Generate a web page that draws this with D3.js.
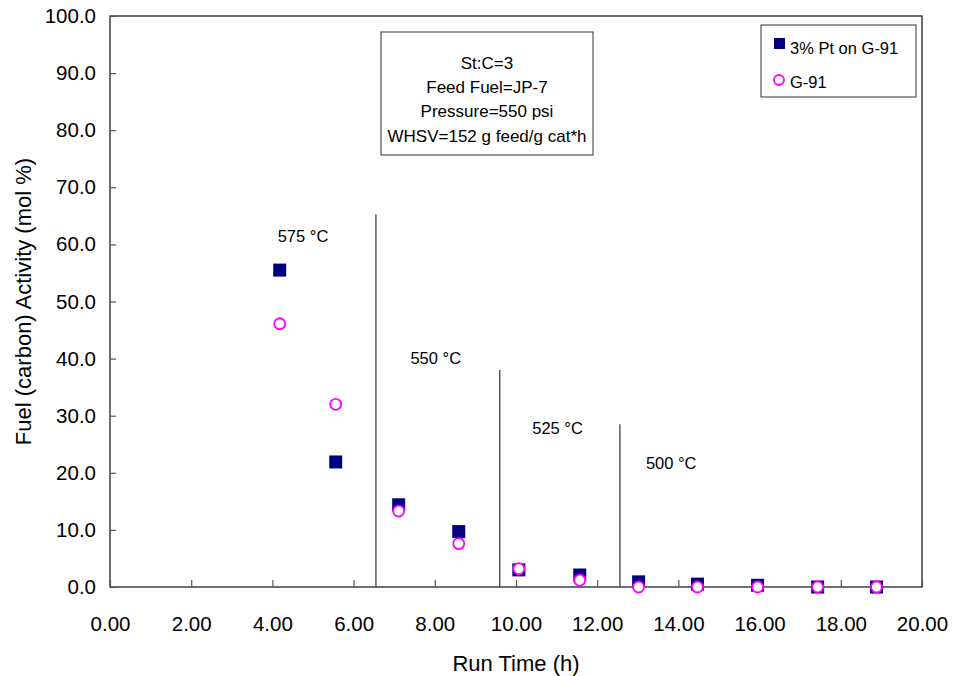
<!DOCTYPE html>
<html>
<head>
<meta charset="utf-8">
<script src="https://cdn.jsdelivr.net/npm/d3@7"></script>
<style>
  body { margin: 0; background: #fff; }
  svg { font-family: "Liberation Sans", Arial, sans-serif; }
  .tick-label { font-size: 20.5px; fill: #000; }
  .axis-title { font-size: 22px; fill: #000; }
  .note { font-size: 16.5px; fill: #000; }
  .cond { font-size: 17px; fill: #000; }
</style>
</head>
<body>
<svg></svg>
<script>
// run time (h) of each sample
var runTime = [4.18, 5.56, 7.11, 8.59, 10.07, 11.57, 13.02, 14.47, 15.95, 17.43, 18.88];
// fuel (carbon) activity, mol %
var ptOnG91 = [55.5, 21.9, 14.4, 9.7, 3.0, 2.1, 0.9, 0.5, 0.3, 0.0, 0.0];
var g91 = [46.1, 32.0, 13.3, 7.6, 3.2, 1.2, 0.0, 0.0, 0.0, 0.0, 0.0];

var xTicks = [0, 2, 4, 6, 8, 10, 12, 14, 16, 18, 20];
var yTicks = [0, 10, 20, 30, 40, 50, 60, 70, 80, 90, 100];

// temperature zones: divider position, divider top, label
var zoneLabels = ["575 °C", "550 °C", "525 °C", "500 °C"];
var zoneLabelX = [4.13, 7.4, 10.4, 13.2];
var zoneLabelY = [61.5, 40.0, 27.8, 21.6];
var dividerX = [6.55, 9.6, 12.56];
var dividerTop = [65.3, 38.0, 28.5];

var conditions = ["St:C=3", "Feed Fuel=JP-7", "Pressure=550 psi", "WHSV=152 g feed/g cat*h"];
var seriesNames = ["3% Pt on G-91", "G-91"];

var svgWidth = 953, svgHeight = 676;
var margin = { top: 16, right: 31, bottom: 89, left: 110 };
var width = svgWidth - margin.left - margin.right;
var height = svgHeight - margin.top - margin.bottom;

var svg = d3.select("svg")
  .attr("width", svgWidth)
  .attr("height", svgHeight);

var chart = svg.append("g")
  .attr("transform", `translate(${margin.left}, ${margin.top})`);

var x = d3.scaleLinear().domain([0, 20]).range([0, width]);
var y = d3.scaleLinear().domain([0, 100]).range([height, 0]);

// frame
chart.append("rect")
  .attr("width", width)
  .attr("height", height)
  .attr("fill", "none")
  .attr("stroke", "#222")
  .attr("stroke-width", 1.3);

// axes, ticks pointing inward
var xAxis = chart.append("g")
  .attr("transform", "translate(0," + height + ")")
  .call(d3.axisBottom(x).tickValues(xTicks).tickSize(-7).tickPadding(29)
    .tickFormat(d3.format(".2f")));
var yAxis = chart.append("g")
  .call(d3.axisLeft(y).tickValues(yTicks).tickSize(-6).tickPadding(14)
    .tickFormat(d3.format(".1f")));

[xAxis, yAxis].forEach(function (a) {
  a.select(".domain").remove();
  a.selectAll("line").attr("stroke", "#555").attr("stroke-width", 1.2);
  a.selectAll("text").attr("class", "tick-label").attr("font-family", null).attr("font-size", null);
});

// temperature zone dividers
chart.selectAll(".divider")
  .data(dividerX)
  .enter()
  .append("line")
  .attr("x1", (d) => x(d))
  .attr("x2", (d) => x(d))
  .attr("y1", (d, i) => y(dividerTop[i]))
  .attr("y2", height)
  .attr("stroke", "#333")
  .attr("stroke-width", 1.2);

chart.selectAll(".zone-label")
  .data(zoneLabels)
  .enter()
  .append("text")
  .attr("class", "note")
  .attr("x", (d, i) => x(zoneLabelX[i]))
  .attr("y", (d, i) => y(zoneLabelY[i]))
  .attr("dy", "0.35em")
  .text((d) => d);

// data
var sq = 13;
chart.selectAll(".pt")
  .data(runTime)
  .enter()
  .append("rect")
  .attr("x", (d) => x(d) - sq / 2)
  .attr("y", (d, i) => y(ptOnG91[i]) - sq / 2)
  .attr("width", sq)
  .attr("height", sq)
  .attr("fill", "#000080");

chart.selectAll(".g91")
  .data(runTime)
  .enter()
  .append("circle")
  .attr("cx", (d) => x(d))
  .attr("cy", (d, i) => y(g91[i]))
  .attr("r", 5.5)
  .attr("fill", "#fff")
  .attr("stroke", "#ff00ff")
  .attr("stroke-width", 1.8);

// conditions box
svg.append("rect")
  .attr("x", 381).attr("y", 32)
  .attr("width", 212).attr("height", 123)
  .attr("fill", "#fff")
  .attr("stroke", "#333");

svg.selectAll(".cond")
  .data(conditions)
  .enter()
  .append("text")
  .attr("class", "cond")
  .attr("x", 487)
  .attr("y", (d, i) => 63 + i * 24.2)
  .attr("dy", "0.35em")
  .attr("text-anchor", "middle")
  .text((d) => d);

// legend
svg.append("rect")
  .attr("x", 761).attr("y", 25)
  .attr("width", 155).attr("height", 72)
  .attr("fill", "#fff")
  .attr("stroke", "#333");

svg.append("rect")
  .attr("x", 774).attr("y", 38)
  .attr("width", 11).attr("height", 11)
  .attr("fill", "#000080");
svg.append("circle")
  .attr("cx", 779).attr("cy", 80)
  .attr("r", 5)
  .attr("fill", "#fff")
  .attr("stroke", "#ff00ff")
  .attr("stroke-width", 1.8);

svg.selectAll(".leg")
  .data(seriesNames)
  .enter()
  .append("text")
  .attr("class", "note")
  .attr("x", 790)
  .attr("y", (d, i) => 48 + i * 34)
  .attr("dy", "0.35em")
  .text((d) => d);

// axis titles
svg.append("text")
  .attr("class", "axis-title")
  .attr("x", margin.left + width / 2)
  .attr("y", 663)
  .attr("dy", "0.35em")
  .attr("text-anchor", "middle")
  .text("Run Time (h)");

svg.append("text")
  .attr("class", "axis-title")
  .attr("transform", "translate(23," + (margin.top + height / 2) + ") rotate(-90)")
  .attr("dy", "0.35em")
  .attr("text-anchor", "middle")
  .text("Fuel (carbon) Activity (mol %)");
</script>
</body>
</html>
